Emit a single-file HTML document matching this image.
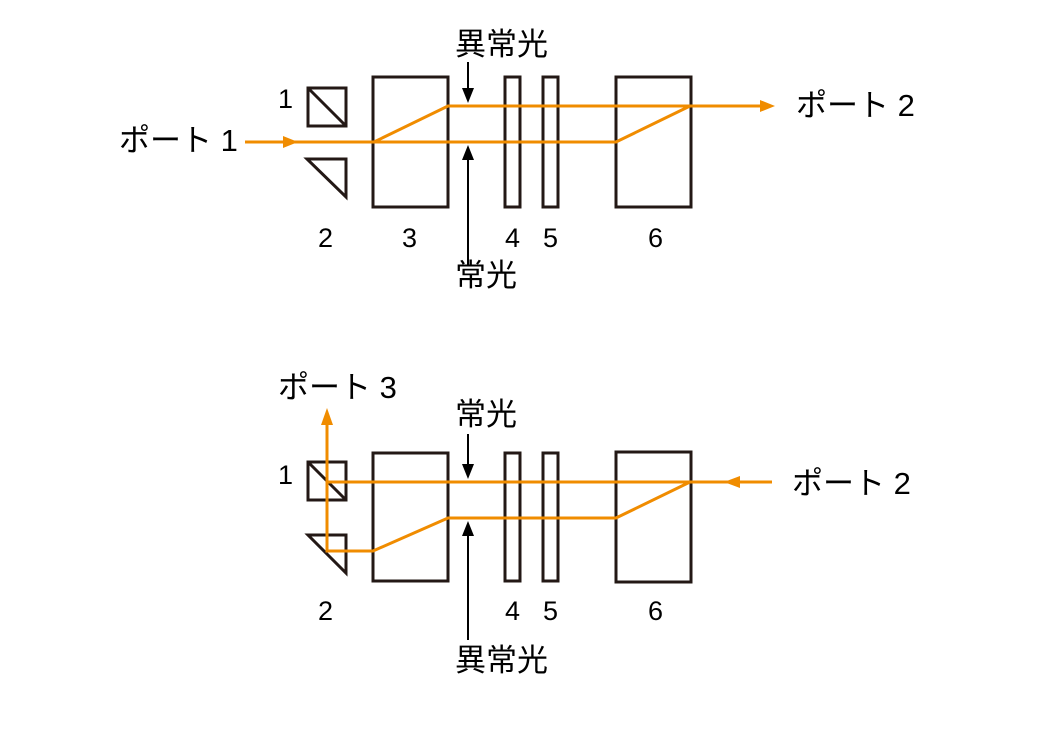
<!DOCTYPE html>
<html><head><meta charset="utf-8"><style>
html,body{margin:0;padding:0;background:#fff}
svg{display:block}
text{font-family:"Liberation Sans","Noto Sans CJK JP",sans-serif;fill:#000}
</style></head><body>
<svg width="1042" height="730" viewBox="0 0 1042 730" xmlns="http://www.w3.org/2000/svg">
<g fill="none" stroke="#231815" stroke-width="3">
<rect x="308" y="88" width="38" height="38"/>
<line x1="308" y1="88" x2="346" y2="126"/>
<polygon points="307,159 346,159 346,197"/>
<rect x="373" y="77" width="75" height="130"/>
<rect x="505" y="77" width="15" height="130"/>
<rect x="543" y="77" width="15" height="130"/>
<rect x="616" y="77" width="75" height="130"/>
<rect x="308" y="462" width="38" height="38"/>
<line x1="308" y1="462" x2="346" y2="500"/>
<polygon points="308,535 346,535 346,573"/>
<rect x="373" y="453" width="75" height="128"/>
<rect x="505" y="453" width="15" height="128"/>
<rect x="543" y="453" width="15" height="128"/>
<rect x="616" y="452" width="75" height="130"/>
</g>
<g fill="none" stroke="#f08c00" stroke-width="3">
<polyline points="245,142 616,142 690,106"/>
<polyline points="374,142 448,106 760,106"/>
<polyline points="327,425 327,551 373,551 448,518 616,518 690,482"/>
<polyline points="327,482 772,482"/>
</g>
<g fill="#f08c00">
<polygon points="283,136 298,142 283,148"/>
<polygon points="760,100 775,106 760,112"/>
<polygon points="321,425 327,408 333,425"/>
<polygon points="740,476 724,482 740,488"/>
</g>
<g stroke="#000" stroke-width="2">
<line x1="468" y1="62" x2="468" y2="90"/>
<line x1="468" y1="265" x2="468" y2="160"/>
<line x1="468" y1="434" x2="468" y2="466"/>
<line x1="468" y1="640" x2="468" y2="536"/>
</g>
<g fill="#000">
<polygon points="462,88 474,88 468,103"/>
<polygon points="462,160 474,160 468,145"/>
<polygon points="462,464 474,464 468,479"/>
<polygon points="462,536 474,536 468,521"/>
</g>
<g font-size="31">
<text x="119" y="151">ポート 1</text>
<text x="796" y="116">ポート 2</text>
<text x="455" y="55">異常光</text>
<text x="455" y="286">常光</text>
<text x="278" y="398">ポート 3</text>
<text x="792" y="494">ポート 2</text>
<text x="455" y="425">常光</text>
<text x="455" y="671">異常光</text>
</g>
<g font-size="27">
<text x="278" y="108">1</text>
<text x="318" y="247">2</text>
<text x="402" y="247">3</text>
<text x="505" y="247">4</text>
<text x="543" y="247">5</text>
<text x="648" y="247">6</text>
<text x="278" y="484">1</text>
<text x="318" y="620">2</text>
<text x="505" y="620">4</text>
<text x="543" y="620">5</text>
<text x="648" y="620">6</text>
</g>
</svg>
</body></html>
